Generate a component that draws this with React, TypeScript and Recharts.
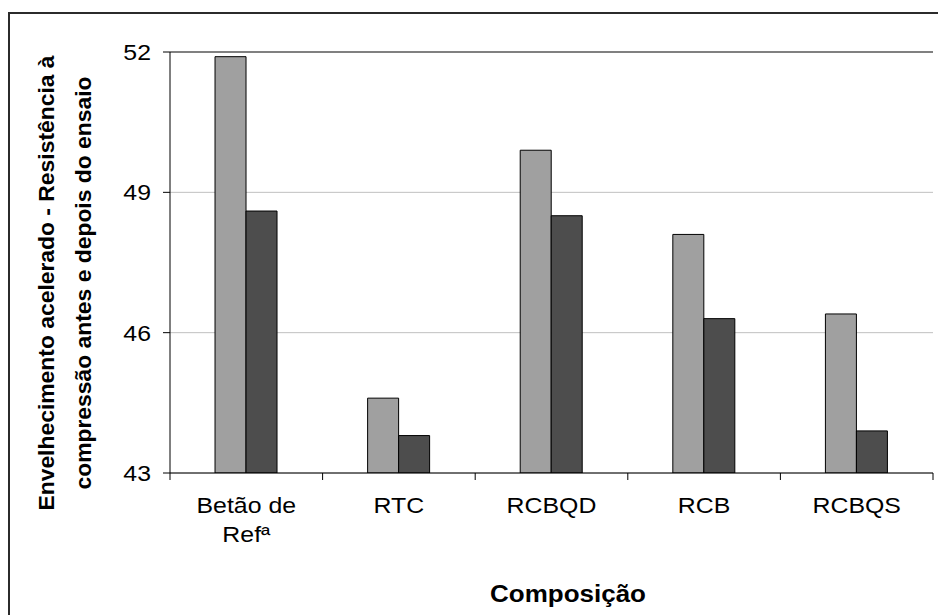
import { BarChart, Bar, XAxis, YAxis, CartesianGrid, ReferenceLine } from "recharts";

const categories = ["Betão de Refª", "RTC", "RCBQD", "RCB", "RCBQS"];
const beforeTest = [51.9, 44.6, 49.9, 48.1, 46.4];
const afterTest = [48.6, 43.8, 48.5, 46.3, 43.9];
const yTicks = [43, 46, 49, 52];

const data = categories.map((name, i) => ({
  name,
  antes: beforeTest[i],
  depois: afterTest[i],
}));

const FONT = "'Liberation Sans', Arial, sans-serif";
const STRETCH = 1.13;

function wrapLabel(text: string, maxChars: number): string[] {
  const words = text.split(" ");
  const lines: string[] = [];
  let current = "";
  for (const word of words) {
    if (current && (current + " " + word).length > maxChars) {
      lines.push(current);
      current = word;
    } else {
      current = current ? current + " " + word : word;
    }
  }
  if (current) lines.push(current);
  return lines;
}

function CategoryTick(props: any) {
  const { x, y, payload, index, width, visibleTicksCount } = props;
  const band = width && visibleTicksCount ? width / visibleTicksCount : 152.5;
  const lines = wrapLabel(String(payload.value), 9);
  const isLast = index === visibleTicksCount - 1;
  return (
    <g>
      <line x1={x - band / 2} x2={x - band / 2} y1={y - 7} y2={y} stroke="#000" />
      {isLast && <line x1={x + band / 2} x2={x + band / 2} y1={y - 7} y2={y} stroke="#000" />}
      {lines.map((line, i) => (
        <text
          key={i}
          transform={`translate(${x},${y + 33 + i * 29}) scale(${STRETCH},1)`}
          textAnchor="middle"
          fontFamily={FONT}
          fontSize={22}
          fill="#000"
        >
          {line}
        </text>
      ))}
    </g>
  );
}

function ValueTick(props: any) {
  const { x, y, payload } = props;
  return (
    <text
      transform={`translate(${x},${y}) scale(${STRETCH},1)`}
      textAnchor="end"
      dy="0.36em"
      fontFamily={FONT}
      fontSize={22}
      fill="#000"
    >
      {payload.value}
    </text>
  );
}

function YTitle() {
  const cy = 283;
  return (
    <g fontFamily={FONT} fontWeight="bold" fontSize={22} fill="#000">
      <text transform={`translate(54,${cy}) rotate(-90) scale(1.04,1)`} textAnchor="middle">
        Envelhecimento acelerado - Resistência à
      </text>
      <text transform={`translate(91,${cy}) rotate(-90) scale(1.04,1)`} textAnchor="middle">
        compressão antes e depois do ensaio
      </text>
    </g>
  );
}

function XTitle() {
  return (
    <text
      transform={`translate(568,602) scale(${STRETCH},1)`}
      textAnchor="middle"
      fontFamily={FONT}
      fontWeight="bold"
      fontSize={23}
      fill="#000"
    >
      Composição
    </text>
  );
}

export default function App() {
  return (
    <div
      style={{
        position: "absolute",
        left: 0,
        top: 0,
        width: 938,
        height: 615,
        overflow: "hidden",
        background: "#fff",
      }}
    >
      <div
        style={{
          position: "absolute",
          left: 8,
          top: 12,
          width: 960,
          height: 640,
          border: "2px solid #2b2b2b",
          boxSizing: "border-box",
        }}
      />
      <BarChart
        width={938}
        height={615}
        data={data}
        margin={{ top: 52, right: 5, bottom: 82, left: 0 }}
        barCategoryGap="29.5%"
        barGap={0}
      >
        <CartesianGrid vertical={false} stroke="#c0c0c0" />
        <ReferenceLine y={52} stroke="#808080" strokeWidth={2} />
        <XAxis
          dataKey="name"
          height={60}
          tickSize={7}
          tickMargin={0}
          tickLine={false}
          axisLine={{ stroke: "#000" }}
          tick={<CategoryTick />}
          interval={0}
          label={<XTitle />}
        />
        <YAxis
          width={170}
          domain={[43, 52]}
          ticks={yTicks}
          tickSize={7}
          tickMargin={12}
          tickLine={{ stroke: "#000" }}
          axisLine={{ stroke: "#000" }}
          tick={<ValueTick />}
          allowDataOverflow
          label={<YTitle />}
        />
        <YAxis
          yAxisId="frame"
          orientation="right"
          width={0}
          domain={[43, 52]}
          tick={false}
          tickLine={false}
          axisLine={{ stroke: "#808080", strokeWidth: 2 }}
        />
        <Bar dataKey="antes" fill="#a0a0a0" stroke="#000" strokeWidth={1} isAnimationActive={false} />
        <Bar dataKey="depois" fill="#4d4d4d" stroke="#000" strokeWidth={1} isAnimationActive={false} />
      </BarChart>
    </div>
  );
}
